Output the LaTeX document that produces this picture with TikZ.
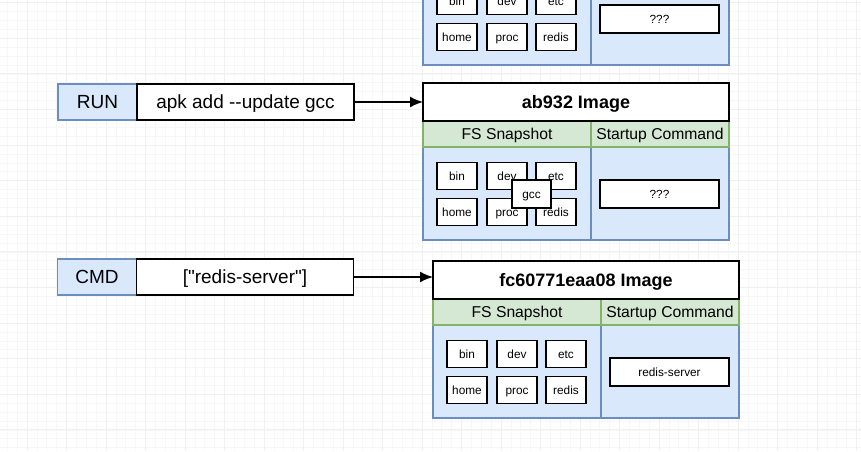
\documentclass[tikz,border=0pt]{standalone}
\usepackage{fontspec}
\newfontfamily\diagramfont{Liberation Sans}
\usetikzlibrary{arrows.meta}
\definecolor{fsblue}{HTML}{DAE8FC}
\definecolor{fsblueline}{HTML}{6C8EBF}
\definecolor{fsgreen}{HTML}{D5E8D4}
\definecolor{fsgreenline}{HTML}{82B366}
\tikzset{ %inner sep = 0,
  >={Latex[length=13pt,width=11pt]},
  {cell/.style} ={rectangle, inner sep=0, outer sep=0, text depth=0pt},
  {keyword/.style} ={cell, draw=fsblueline, fill=fsblue, line width=1.2pt,
                minimum width=79, minimum height=36, text height=13.7pt,
                font=\diagramfont\fontsize{19}{22}\selectfont},
  {argument/.style} ={cell, draw, fill=white, line width=1.8pt,
                minimum width=217, minimum height=36, text height=13.7pt,
                font=\diagramfont\fontsize{19}{22}\selectfont},
  {imagehead/.style} ={cell, draw, fill=white, line width=2pt,
                minimum width=306, minimum height=38, text height=12pt,
                font=\diagramfont\fontsize{18}{21}\selectfont\bfseries},
  {section/.style} ={cell, draw=fsgreenline, fill=fsgreen, line width=1.2pt,
                minimum width=168, minimum height=26, text height=11.3pt,
                font=\diagramfont\fontsize{15.7}{18}\selectfont},
  {body/.style} ={cell, draw=fsblueline, fill=fsblue, line width=1.2pt,
                minimum height=93},
  {folder/.style} ={cell, draw, fill=white, line width=1.8pt,
                minimum width=40, minimum height=27, text height=8.5pt,
                font=\diagramfont\fontsize{11.8}{14}\selectfont},
  {startcmd/.style} ={folder, minimum width=119, minimum height=28},
  {minor grid/.style} ={black!3, line width=0.6pt},
  {major grid/.style} ={black!6, line width=0.8pt},
  {link/.style} ={->, line width=1.8pt},
 }

\begin{document}
\begin{tikzpicture}[x=1pt,y=-1pt]
\useasboundingbox (0,0) rectangle (861,451);
\clip (0,0) rectangle (861,451);
\fill[white] (0,0) rectangle (861,451);
% canvas grid
\foreach \k in {0,...,88}
  \draw[minor grid] ({-2.625+\k*9.875},0) -- ++(0,451);
\foreach \k in {-1,...,51}
  \draw[minor grid] (0,{2.6+\k*8.9}) -- ++(861,0);
\foreach \k in {-1,...,21}
  \draw[major grid] ({27+\k*39.5},0) -- ++(0,451);
\foreach \k in {0,...,12}
  \draw[major grid] (0,{2.6+\k*35.6}) -- ++(861,0);

% the three images
\foreach \nm/\dx/\dy/\head/\cmd in {top/0/-175/{}/???,
    mid/0/0/ab932 Image/???,
    bot/10/178/fc60771eaa08 Image/redis-server}{
  \begin{scope}[shift={(\dx,\dy)}]
    \node[body, minimum width=168] (\nm-fsbody) at (507,193.5) {};
    \node[body, minimum width=138] (\nm-startbody) at (660,193.5) {};
    \node[section] (\nm-fs) at (507,134) {FS Snapshot};
    \node[section, minimum width=138] (\nm-start) at (660,134) {Startup Command};
    \node[imagehead] (\nm-head) at (576,102) {\head};
    \foreach \f/\x/\y in {bin/457/176, dev/507/176, etc/556/176,
        home/457/212, proc/507/212, redis/556/212}
      \node[folder] (\nm-\f) at (\x,\y) {\f};
    \node[startcmd] (\nm-cmd) at (659.5,194) {\cmd};
  \end{scope}
}
\node[folder, minimum width=39, minimum height=28] (mid-gcc) at (531.5,194) {gcc};

% instructions
\node[keyword] (run) at (97.5,102) {RUN};
\node[argument] (run-arg) at (245.5,102) {apk add --update gcc};
\node[keyword] (cmd) at (97,277) {CMD};
\node[argument] (cmd-arg) at (245,277) {["redis-server"]};

\draw[link] (run-arg) -- (mid-head);
\draw[link] (cmd-arg.east) -- (cmd-arg.east -| bot-head.west);
\end{tikzpicture}
\end{document}
